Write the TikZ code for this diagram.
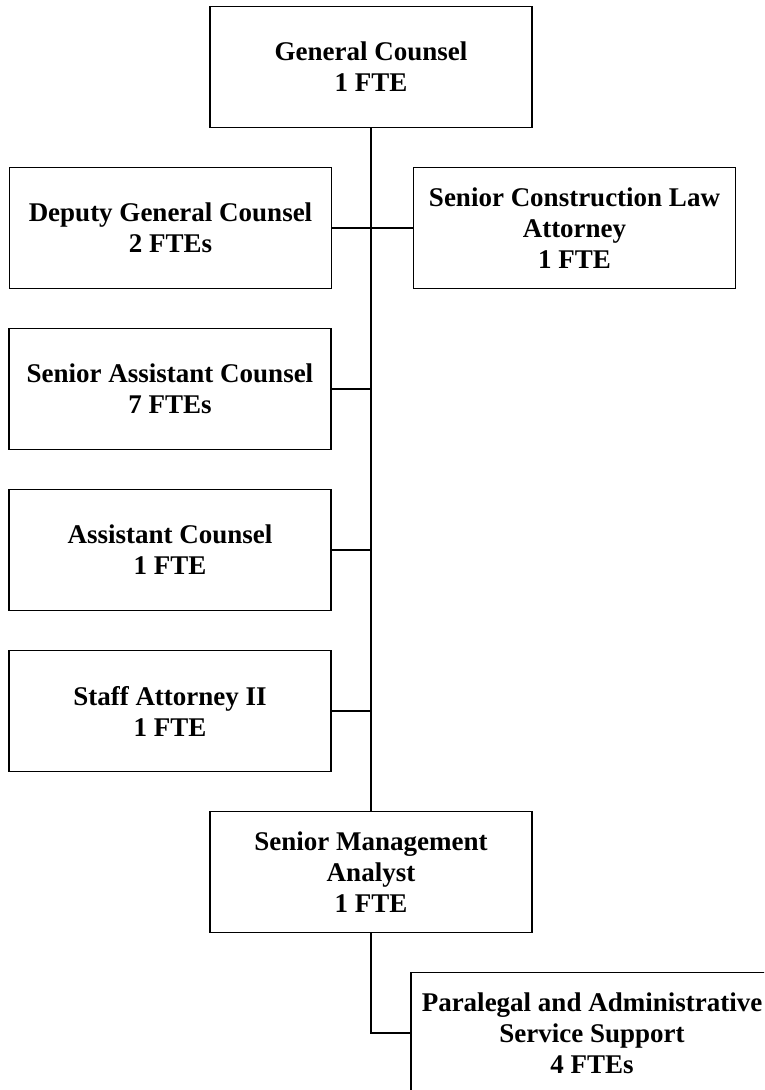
\documentclass[tikz,border=0pt]{standalone}
\usepackage{fontspec}
\setmainfont{Liberation Serif}
\begin{document}
\begin{tikzpicture}[x=1pt,y=-1pt,
  post/.style={draw=black, line width=1.5pt, rectangle, align=center,
    minimum width=322pt, minimum height=121pt, inner sep=0pt,
    font=\fontsize{27}{31}\selectfont\bfseries},
  link/.style={draw=black, line width=1.5pt}]
\useasboundingbox (0,0) rectangle (764,1090);
\clip (0,0) rectangle (764,1090);

% positions
\node[post] (gc)   at (371,67)   {General Counsel\\1 FTE};
\node[post] (dgc)  at (170.5,228) {Deputy General Counsel\\2 FTEs};
\node[post] (scla) at (574.5,228) {Senior Construction Law\\Attorney\\1 FTE};
\node[post] (sac)  at (170,389)  {Senior Assistant Counsel\\7 FTEs};
\node[post] (ac)   at (170,550)  {Assistant Counsel\\1 FTE};
\node[post] (sa)   at (170,711)  {Staff Attorney II\\1 FTE};
\node[post] (sma)  at (371,872)  {Senior Management\\Analyst\\1 FTE};
\node[post, minimum width=362pt] (para) at (592,1033)
  {Paralegal and Administrative\\Service Support\\4 FTEs};

% trunk and branches
\draw[link] (gc.south) -- (sma.north);
\draw[link, line width=2.4pt] (gc.south) -- (gc.south |- dgc.east);
\draw[link] (dgc.east) -- (scla.west);
\draw[link] (sac.east) -- (sac.east -| gc.south);
\draw[link] (ac.east) -- (ac.east -| gc.south);
\draw[link] (sa.east) -- (sa.east -| gc.south);
\draw[link] (sma.south) |- (para.west);
\end{tikzpicture}
\end{document}
